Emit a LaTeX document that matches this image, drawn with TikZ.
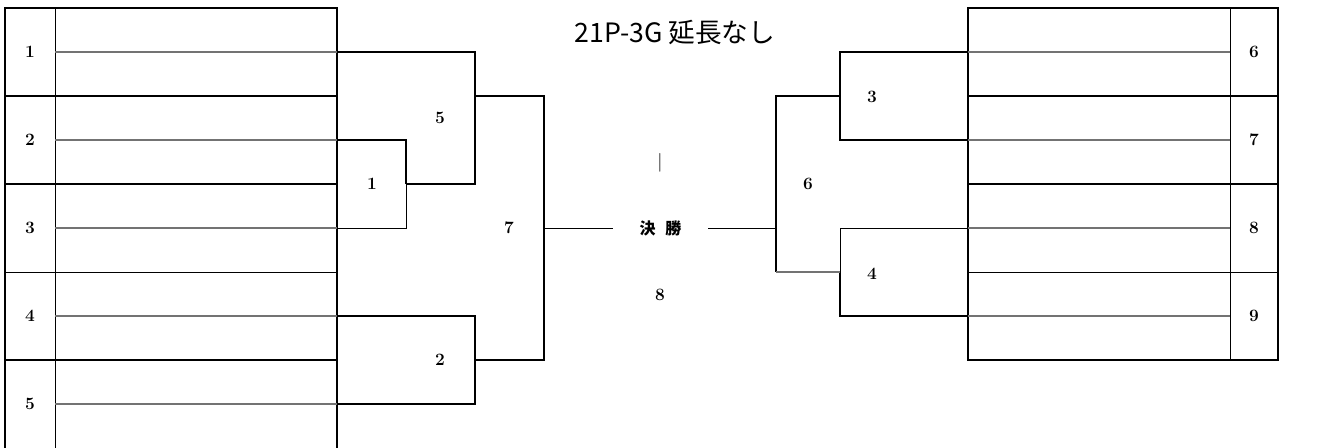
\documentclass[tikz,border=0pt]{standalone}
\usepackage{fontspec}
\newfontfamily\jpfont{Noto Sans CJK JP}
\usetikzlibrary{positioning}

\tikzset{
    frame/.style={line width=1.1pt, black},
    thinframe/.style={line width=0.7pt, black},
    slot/.style={line width=0.9pt, black!55},
    num/.style={font=\bfseries\fontsize{13}{15}\selectfont, inner sep=1pt},
}

\begin{document}
\begin{tikzpicture}[x=0.75pt, y=-0.75pt]
    \useasboundingbox (0,0) rectangle (1321,448);

    % left entry table
    \draw[frame] (5,448) -- (5,8) -- (337,8) -- (337,448);
    \draw[thinframe] (55,8) -- (55,448);
    \foreach \y in {96,184,360} {
        \draw[frame] (5,\y) -- (337,\y);
    }
    \draw[thinframe] (5,272) -- (337,272);
    \foreach \i in {1,...,5} {
        \pgfmathsetmacro\ym{8+(\i-1)*88+44}
        \node[num] (L\i) at (30,\ym) {\i};
        \coordinate (l\i) at (337,\ym);
        \draw[slot] (55,\ym) -- (l\i);
    }

    % right entry table
    \draw[frame] (968,8) rectangle (1278,360);
    \draw[thinframe] (1230,8) -- (1230,360);
    \foreach \y in {96,184} {
        \draw[frame] (968,\y) -- (1278,\y);
    }
    \draw[thinframe] (968,272) -- (1278,272);
    \foreach \i [evaluate=\i as \n using int(\i+5)] in {1,...,4} {
        \pgfmathsetmacro\ym{8+(\i-1)*88+44}
        \node[num] (R\i) at (1254,\ym) {\n};
        \coordinate (r\i) at (968,\ym);
        \draw[slot] (1230,\ym) -- (r\i);
    }

    % match points
    \coordinate (m1) at (406,184);
    \coordinate (m5) at (475,96);
    \coordinate (m2) at (475,360);
    \coordinate (m7) at (544,228);
    \coordinate (m3) at (840,96);
    \coordinate (m4) at (840,272);
    \coordinate (m6) at (776,228);

    % left bracket
    \draw[frame] (l2) -| (m1);
    \draw[thinframe] (m1) |- (l3);
    \draw[frame] (l1) -| (m5) |- (m1);
    \draw[frame] (l4) -| (m2) |- (l5);
    \draw[frame] (m5) -| (m7) |- (m2);

    % right bracket
    \draw[frame] (r1) -| (m3) |- (r2);
    \draw[thinframe] (r3) -| (m4);
    \draw[frame] (m4) |- (r4);
    \draw[frame] (m3) -| (m6);
    \draw[frame] (m6) -- +(0,44);
    \draw[slot] (m6) ++(0,44) -- (m4);

    % final
    \node[font=\jpfont\bfseries\fontsize{12}{14}\selectfont, minimum width=71pt, inner sep=0pt] (final) at (660.5,228) {決\hspace{0.6em}勝};
    \draw[thinframe] (m7) -- (final);
    \draw[thinframe] (final) -- (m6);
    \node[font=\fontsize{14}{16}\selectfont] (bar) at (660,163) {|};
    \node[num] (M8) at (660,295) {8};

    % match numbers
    \node[num] (M1) at (372,184) {1};
    \node[num] (M5) at (440,118) {5};
    \node[num] (M2) at (440,360) {2};
    \node[num] (M7) at (509,228) {7};
    \node[num] (M6) at (808,184) {6};
    \node[num] (M3) at (872,97) {3};
    \node[num] (M4) at (872,274) {4};

    \node[font=\jpfont\fontsize{20}{24}\selectfont] (title) at (675,32) {21P-3G 延長なし};
\end{tikzpicture}
\end{document}
